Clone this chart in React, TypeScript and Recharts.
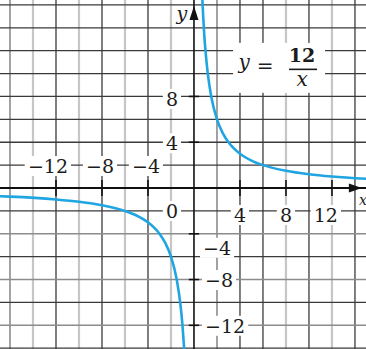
import { ComposedChart, Line, XAxis, YAxis, ReferenceLine, ReferenceDot } from "recharts"

// y = 12 / x, two branches
const rightX = [0.72, 0.8, 0.9, 1, 1.2, 1.5, 2, 2.5, 3, 4, 5, 6, 8, 10, 12, 15]
const rightY = [16.7, 15, 13.3, 12, 10, 8, 6, 4.8, 4, 3, 2.4, 2, 1.5, 1.2, 1, 0.8]
const leftX = [-17, -16, -12, -10, -8, -6, -5, -4, -3, -2.5, -2, -1.5, -1.2, -1, -0.85]
const leftY = [-0.71, -0.75, -1, -1.2, -1.5, -2, -2.4, -3, -4, -4.8, -6, -8, -10, -12, -14.1]

// grid every 2 units, printed in alternating shades
const gridX = [-16, -14, -12, -10, -8, -6, -4, -2, 2, 4, 6, 8, 10, 12, 14]
const gridXTone = ["mid", "light", "dark", "light", "dark", "light", "dark", "light", "mid", "dark", "dark", "light", "dark", "light", "dark"]
const gridY = [-14, -12, -10, -8, -6, -4, -2, 2, 4, 6, 8, 10, 12, 14, 16]
const gridYTone = ["dark", "mid", "dark", "mid", "dark", "mid", "dark", "dark", "dark", "dark", "dark", "dark", "dark", "dark", "dark"]

const xTicks = [-12, -8, -4, 4, 8, 12]
const xTickLabels = ["−12", "−8", "−4", "4", "8", "12"]
const yTicks = [-12, -8, -4, 4, 8]
const yTickLabels = ["−12", "−8", "−4", "4", "8"]

const X_DOMAIN: [number, number] = [-16.87, 14.96]
const Y_DOMAIN: [number, number] = [-14.07, 16.43]

const FONT = "'DejaVu Serif', serif"
const INK = "#1c1c1c"
const CURVE = "#1fa6e2"

const tones: Record<string, { stroke: string; width: number }> = {
  dark: { stroke: "#3a3a3a", width: 1.3 },
  mid: { stroke: "#8c8c8c", width: 1.6 },
  light: { stroke: "#c6c6c6", width: 2.2 },
}

const rightPts = rightX.map((x, i) => ({ x, y: rightY[i] }))
const leftPts = leftX.map((x, i) => ({ x, y: leftY[i] }))

function textWidth(s: string, size: number) {
  let w = 0
  for (const ch of s) w += ch === "−" ? 0.84 * size : 0.64 * size
  return w
}

type LabelOpts = { text: string; dx: number; dy: number; anchor: "start" | "end" | "middle" }

function BoxLabel(props: any, o: LabelOpts) {
  const { cx, cy } = props
  const size = 19
  const w = textWidth(o.text, size)
  const x = cx + o.dx
  const base = cy + o.dy
  const left = o.anchor === "end" ? x - w : o.anchor === "middle" ? x - w / 2 : x
  return (
    <g>
      <rect x={left - 3} y={base - 17} width={w + 6} height={20} fill="#fff" />
      <text x={x} y={base} textAnchor={o.anchor} fontFamily={FONT} fontSize={size} fill={INK}>
        {o.text}
      </text>
    </g>
  )
}

function ArrowRight({ cx, cy }: any) {
  return <path d={`M${cx},${cy} L${cx - 13},${cy - 4.5} L${cx - 13},${cy + 4.5} Z`} fill="#111" />
}

function ArrowUp({ cx, cy }: any) {
  return <path d={`M${cx},${cy} L${cx - 4.5},${cy + 14} L${cx + 4.5},${cy + 14} Z`} fill="#111" />
}

function Formula({ cx, cy }: any) {
  return (
    <g fontFamily={FONT} fill={INK}>
      <rect x={cx - 46} y={cy - 25} width={92} height={50} fill="#fff" />
      <text x={cx - 35} y={cy + 1} fontSize={20} fontStyle="italic" textAnchor="middle">y</text>
      <text x={cx - 14} y={cy + 5} fontSize={20} textAnchor="middle">=</text>
      <text x={cx + 23} y={cy - 6} fontSize={19} fontWeight="bold" textAnchor="middle">12</text>
      <line x1={cx + 10} x2={cx + 38} y1={cy + 1.5} y2={cy + 1.5} stroke={INK} strokeWidth={1.6} />
      <text x={cx + 23} y={cy + 18} fontSize={20} fontStyle="italic" textAnchor="middle">x</text>
    </g>
  )
}

function AxisName({ cx, cy, name, size }: any) {
  return (
    <text x={cx} y={cy} fontFamily={FONT} fontStyle="italic" fontSize={size} fill={INK} textAnchor="middle">
      {name}
    </text>
  )
}

const xLabelOpts = (v: number, text: string): LabelOpts =>
  v < 0 ? { text, dx: 12, dy: -15, anchor: "end" } : { text, dx: 6, dy: 34, anchor: "end" }

const yLabelOpts = (v: number, text: string): LabelOpts => {
  if (v > 0) return { text, dx: -16, dy: v === 8 ? 9.5 : 8, anchor: "end" }
  return { text, dx: v === -4 ? 9 : 11, dy: v === -4 ? 21 : 7.5, anchor: "start" }
}

export default function App() {
  return (
    <div style={{ position: "absolute", left: 0, top: 0, width: 366, height: 349, background: "#fff" }}>
      <ComposedChart width={366} height={349} margin={{ top: 0, right: 0, bottom: 0, left: 0 }}>
        <XAxis dataKey="x" type="number" domain={X_DOMAIN} allowDataOverflow hide />
        <YAxis dataKey="y" type="number" domain={Y_DOMAIN} allowDataOverflow hide />

        {gridX.map((v, i) => (
          <ReferenceLine key={`gx${v}`} x={v} stroke={tones[gridXTone[i]].stroke} strokeWidth={tones[gridXTone[i]].width} />
        ))}
        {gridY.map((v, i) => (
          <ReferenceLine key={`gy${v}`} y={v} stroke={tones[gridYTone[i]].stroke} strokeWidth={tones[gridYTone[i]].width} />
        ))}

        <ReferenceLine y={0} stroke="#111" strokeWidth={2.2} />
        <ReferenceLine x={0} stroke="#111" strokeWidth={1.6} />

        {xTicks.map((v) => (
          <ReferenceLine key={`tx${v}`} segment={[{ x: v, y: -0.7 }, { x: v, y: 0.7 }]} stroke="#111" strokeWidth={1.6} />
        ))}
        {yTicks.map((v) => (
          <ReferenceLine key={`ty${v}`} segment={[{ x: -0.45, y: v }, { x: 0.45, y: v }]} stroke="#111" strokeWidth={1.6} />
        ))}

        {xTicks.map((v, i) => (
          <ReferenceDot key={`lx${v}`} x={v} y={0} r={1} shape={(p: any) => BoxLabel(p, xLabelOpts(v, xTickLabels[i]))} />
        ))}
        {yTicks.map((v, i) => (
          <ReferenceDot key={`ly${v}`} x={0} y={v} r={1} shape={(p: any) => BoxLabel(p, yLabelOpts(v, yTickLabels[i]))} />
        ))}
        <ReferenceDot x={0} y={0} r={1} shape={(p: any) => BoxLabel(p, { text: "0", dx: -16, dy: 30, anchor: "end" })} />

        <ReferenceDot x={7.4} y={10.5} r={1} shape={(p: any) => <Formula {...p} />} />
        <ReferenceDot x={14.6} y={0} r={1} shape={(p: any) => <ArrowRight {...p} />} />
        <ReferenceDot x={0} y={15.9} r={1} shape={(p: any) => <ArrowUp {...p} />} />
        <ReferenceDot x={0} y={15.9} r={1} shape={(p: any) => <AxisName {...p} cx={p.cx - 12} cy={p.cy + 14} name="y" size={19} />} />
        <ReferenceDot x={14.6} y={0} r={1} shape={(p: any) => <AxisName {...p} cx={p.cx + 1} cy={p.cy + 17} name="x" size={14} />} />

        <Line data={leftPts} dataKey="y" type="monotone" stroke={CURVE} strokeWidth={2.6} dot={false} isAnimationActive={false} />
        <Line data={rightPts} dataKey="y" type="monotone" stroke={CURVE} strokeWidth={2.6} dot={false} isAnimationActive={false} />
      </ComposedChart>
    </div>
  )
}
